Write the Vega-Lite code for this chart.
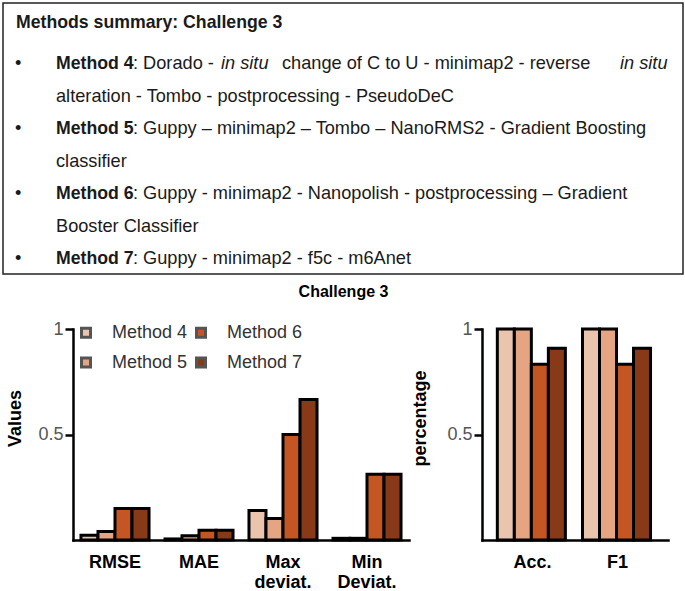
{
  "$schema": "https://vega.github.io/schema/vega-lite/v6.json",
  "padding": {"left": 2, "top": 2, "right": 0, "bottom": 0},
  "spacing": 9,
  "datasets": {
    "notes": [
      {"line": 0, "part": "title", "text": "Methods summary: Challenge 3"},
      {"line": 1, "part": "bullet", "text": "•"},
      {"line": 1, "part": "head", "text": "Method 4"},
      {"line": 1, "part": "body", "text": ": Dorado -"},
      {"line": 1, "part": "i1", "text": "in situ"},
      {"line": 1, "part": "mid", "text": "change of C to U - minimap2 - reverse"},
      {"line": 1, "part": "i2", "text": "in situ"},
      {"line": 2, "part": "cont", "text": "alteration - Tombo - postprocessing - PseudoDeC"},
      {"line": 3, "part": "bullet", "text": "•"},
      {"line": 3, "part": "head", "text": "Method 5"},
      {"line": 3, "part": "body", "text": ": Guppy – minimap2 – Tombo – NanoRMS2 - Gradient Boosting"},
      {"line": 4, "part": "cont", "text": "classifier"},
      {"line": 5, "part": "bullet", "text": "•"},
      {"line": 5, "part": "head", "text": "Method 6"},
      {"line": 5, "part": "body", "text": ": Guppy - minimap2 - Nanopolish - postprocessing – Gradient"},
      {"line": 6, "part": "cont", "text": "Booster Classifier"},
      {"line": 7, "part": "bullet", "text": "•"},
      {"line": 7, "part": "head", "text": "Method 7"},
      {"line": 7, "part": "body", "text": ": Guppy - minimap2 - f5c - m6Anet"}
    ],
    "errors": [
      {"metric": "RMSE", "method": "Method 4", "value": 0.022},
      {"metric": "RMSE", "method": "Method 5", "value": 0.04},
      {"metric": "RMSE", "method": "Method 6", "value": 0.149},
      {"metric": "RMSE", "method": "Method 7", "value": 0.149},
      {"metric": "MAE", "method": "Method 4", "value": 0.005},
      {"metric": "MAE", "method": "Method 5", "value": 0.02},
      {"metric": "MAE", "method": "Method 6", "value": 0.046},
      {"metric": "MAE", "method": "Method 7", "value": 0.046},
      {"metric": "Max deviat.", "method": "Method 4", "value": 0.14},
      {"metric": "Max deviat.", "method": "Method 5", "value": 0.102},
      {"metric": "Max deviat.", "method": "Method 6", "value": 0.5},
      {"metric": "Max deviat.", "method": "Method 7", "value": 0.666},
      {"metric": "Min Deviat.", "method": "Method 4", "value": 0.008},
      {"metric": "Min Deviat.", "method": "Method 5", "value": 0.008},
      {"metric": "Min Deviat.", "method": "Method 6", "value": 0.312},
      {"metric": "Min Deviat.", "method": "Method 7", "value": 0.312}
    ],
    "scores": [
      {"metric": "Acc.", "method": "Method 4", "value": 1},
      {"metric": "Acc.", "method": "Method 5", "value": 1},
      {"metric": "Acc.", "method": "Method 6", "value": 0.833},
      {"metric": "Acc.", "method": "Method 7", "value": 0.909},
      {"metric": "F1", "method": "Method 4", "value": 1},
      {"metric": "F1", "method": "Method 5", "value": 1},
      {"metric": "F1", "method": "Method 6", "value": 0.833},
      {"metric": "F1", "method": "Method 7", "value": 0.909}
    ]
  },
  "vconcat": [
    {
      "width": 680,
      "height": 271,
      "view": {"stroke": "#222", "strokeWidth": 1.5},
      "data": {"name": "notes"},
      "encoding": {
        "y": {
          "field": "line",
          "type": "ordinal",
          "scale": {"type": "point", "domain": [0, 1, 2, 3, 4, 5, 6, 7], "range": [33.5, 261], "padding": 0},
          "axis": null
        },
        "text": {"field": "text"}
      },
      "layer": [
        {"transform": [{"filter": "datum.part == 'title'"}], "mark": {"type": "text", "x": 13, "dy": -8.5, "fontSize": 17.7, "fontWeight": "bold"}},
        {"transform": [{"filter": "datum.part == 'bullet'"}], "mark": {"type": "text", "x": 12}},
        {"transform": [{"filter": "datum.part == 'head'"}], "mark": {"type": "text", "x": 53, "fontSize": 17.7, "fontWeight": "bold"}},
        {"transform": [{"filter": "datum.part == 'body'"}], "mark": {"type": "text", "x": 130}},
        {"transform": [{"filter": "datum.part == 'cont'"}], "mark": {"type": "text", "x": 53}},
        {"transform": [{"filter": "datum.part == 'i1'"}], "mark": {"type": "text", "x": 218, "fontStyle": "italic"}},
        {"transform": [{"filter": "datum.part == 'mid'"}], "mark": {"type": "text", "x": 279}},
        {"transform": [{"filter": "datum.part == 'i2'"}], "mark": {"type": "text", "x": 617, "fontStyle": "italic"}}
      ]
    },
    {
      "title": {"text": "Challenge 3", "fontSize": 16, "fontWeight": "bold", "color": "black", "offset": 20, "anchor": "middle", "dx": 8},
      "spacing": 2,
      "resolve": {"scale": {"color": "independent"}},
      "hconcat": [
        {
          "width": 406,
          "height": 211,
          "data": {"name": "errors"},
          "mark": "bar",
          "encoding": {
            "x": {
              "field": "metric",
              "type": "nominal",
              "sort": ["RMSE", "MAE", "Max deviat.", "Min Deviat."],
              "title": null,
              "scale": {"range": [70, 406], "paddingInner": 0.19, "paddingOuter": 0.095},
              "axis": {"labelExpr": "split(datum.label, ' ')"}
            },
            "xOffset": {"field": "method", "type": "nominal", "scale": {"paddingInner": 0, "paddingOuter": 0}},
            "y": {
              "field": "value",
              "type": "quantitative",
              "title": "Values",
              "scale": {"domain": [0, 1], "nice": false},
              "axis": {"values": [0.5, 1], "offset": -70, "titlePadding": 13}
            },
            "color": {
              "field": "method",
              "type": "nominal",
              "scale": {"domain": ["Method 4", "Method 5", "Method 6", "Method 7"], "range": ["#EBC4AE", "#E5A582", "#C45624", "#883A18"]},
              "legend": {"title": null, "orient": "none", "legendX": 74, "legendY": -5.5}
            }
          }
        },
        {
          "width": 186,
          "height": 211,
          "data": {"name": "scores"},
          "mark": "bar",
          "encoding": {
            "x": {
              "field": "metric",
              "type": "nominal",
              "sort": ["Acc.", "F1"],
              "title": null,
              "scale": {"paddingInner": 0.176, "paddingOuter": 0.18}
            },
            "xOffset": {"field": "method", "type": "nominal", "scale": {"paddingInner": 0, "paddingOuter": 0}},
            "y": {
              "field": "value",
              "type": "quantitative",
              "title": "percentage",
              "scale": {"domain": [0, 1], "nice": false},
              "axis": {"values": [0.5, 1]}
            },
            "color": {
              "field": "method",
              "type": "nominal",
              "scale": {"domain": ["Method 4", "Method 5", "Method 6", "Method 7"], "range": ["#EBC4AE", "#E5A582", "#C45624", "#883A18"]},
              "legend": null
            }
          }
        }
      ]
    }
  ],
  "config": {
    "font": "Liberation Sans",
    "view": {"stroke": null},
    "text": {"align": "left", "baseline": "alphabetic", "fontSize": 18.2, "color": "#1a1a1a"},
    "bar": {"stroke": "black", "strokeWidth": 3},
    "axis": {"grid": false, "domainColor": "black", "domainWidth": 2.5, "domainCap": "square"},
    "axisX": {"ticks": false, "labelAngle": 0, "labelFontSize": 18, "labelFontWeight": "bold", "labelColor": "black", "labelPadding": 13, "labelLineHeight": 20},
    "axisY": {"ticks": true, "tickColor": "black", "tickWidth": 2.5, "tickSize": 8, "labelPadding": 2, "labelFontSize": 18, "labelColor": "#555", "titleFontSize": 18, "titleFontWeight": "bold", "titleColor": "black", "titlePadding": 17, "titleY": 89, "format": "~g"},
    "legend": {"columns": 2, "symbolType": "square", "symbolSize": 81, "symbolStrokeColor": "#555", "symbolStrokeWidth": 1, "labelFontSize": 18, "labelColor": "#333", "labelOffset": 17, "columnPadding": 2, "rowPadding": 8, "padding": 0}
  }
}
